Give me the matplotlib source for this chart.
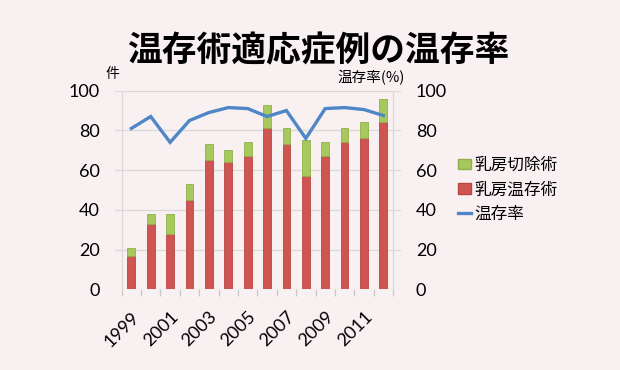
import matplotlib
matplotlib.use("Agg")
import matplotlib.pyplot as plt
from matplotlib.patches import Patch
from matplotlib.lines import Line2D
import numpy as np

plt.rcParams['font.family'] = ['Lato', 'Noto Sans CJK JP', 'DejaVu Sans']

years = [1999, 2000, 2001, 2002, 2003, 2004, 2005, 2006, 2007, 2008, 2009, 2010, 2011, 2012]
conserving = [17, 33, 28, 45, 65, 64, 67, 81, 73, 57, 67, 74, 76, 84]      # 乳房温存術
mastectomy = [4, 5, 10, 8, 8, 6, 7, 12, 8, 18, 7, 7, 8, 12]               # 乳房切除術
rate = [81, 87, 74, 85, 89, 91.5, 91, 87, 90, 76, 91, 91.5, 90.5, 87.5]    # 温存率(%)

title = "温存術適応症例の温存率"
left_label = "件"
right_label = "温存率(%)"
series_names = ["乳房切除術", "乳房温存術", "温存率"]

bg = "#f9f0f2"
red = "#cf5552"
green = "#a6c85c"
blue = "#4f86c6"
grid = "#d9d9d9"
cjk = ['Noto Sans CJK JP', 'DejaVu Sans']

fig = plt.figure(figsize=(6.2, 3.7), dpi=100, facecolor=bg)
ax = fig.add_axes([115/620, 1-289.3/370, (400.7-115)/620, (289.3-90.7)/370])
ax.set_facecolor(bg)

x = np.arange(len(years))
ax.bar(x, conserving, width=0.4, color=red, edgecolor="#b84744", linewidth=0.6, zorder=3)
ax.bar(x, mastectomy, width=0.4, bottom=conserving, color=green, edgecolor="#8fb04a",
       linewidth=0.6, zorder=3)

ax.set_ylim(0, 100)
ax.set_xlim(-0.843, 13.895)
ax.set_yticks(range(0, 101, 20))
ax.grid(axis='y', color=grid, linewidth=0.9, zorder=0)
for b in (-0.5, len(years) - 0.5):
    ax.axvline(b, color=grid, linewidth=0.9, zorder=0)
for s in ax.spines.values():
    s.set_visible(False)

ax.set_xticks(x[::2])
ax.set_xticklabels([str(y) for y in years[::2]], rotation=45, ha='right',
                   rotation_mode='anchor', fontsize=13)
ax.set_xticks(np.arange(-0.5, len(years), 1.0), minor=True)
ax.tick_params(axis='x', which='major', length=0, pad=14)
ax.tick_params(axis='x', which='minor', length=5, color="#c8c8c8", width=0.9)
ax.tick_params(axis='y', length=0, labelsize=13, pad=11)

ax2 = ax.twinx()
ax2.plot(x, rate, color=blue, linewidth=2.4, zorder=5, solid_joinstyle='miter')
ax2.set_ylim(0, 100)
ax2.set_yticks(range(0, 101, 20))
ax2.tick_params(axis='y', length=0, labelsize=13, pad=11)
for s in ax2.spines.values():
    s.set_visible(False)

fig.text(318/620, 1-51/370, title, ha='center', va='center', fontsize=25,
         fontweight='bold', family=cjk)
fig.text(112/620, 1-74/370, left_label, ha='center', va='center', fontsize=10, family=cjk)
fig.text(371/620, 1-78/370, right_label, ha='center', va='center', fontsize=10.5, family=cjk)

handles = [Patch(facecolor=green, edgecolor="#8fb04a"),
           Patch(facecolor=red, edgecolor="#b84744"),
           Line2D([0], [0], color=blue, linewidth=2.4)]
leg = fig.legend(handles, series_names, loc='upper left',
                 bbox_to_anchor=(458/620, 1-157/370), frameon=False,
                 prop={'family': cjk, 'size': 12}, handlelength=0.8, handleheight=0.6,
                 handletextpad=0.2, labelspacing=0.45, borderpad=0, borderaxespad=0)

fig.savefig("out.png", dpi=100, facecolor=bg)
